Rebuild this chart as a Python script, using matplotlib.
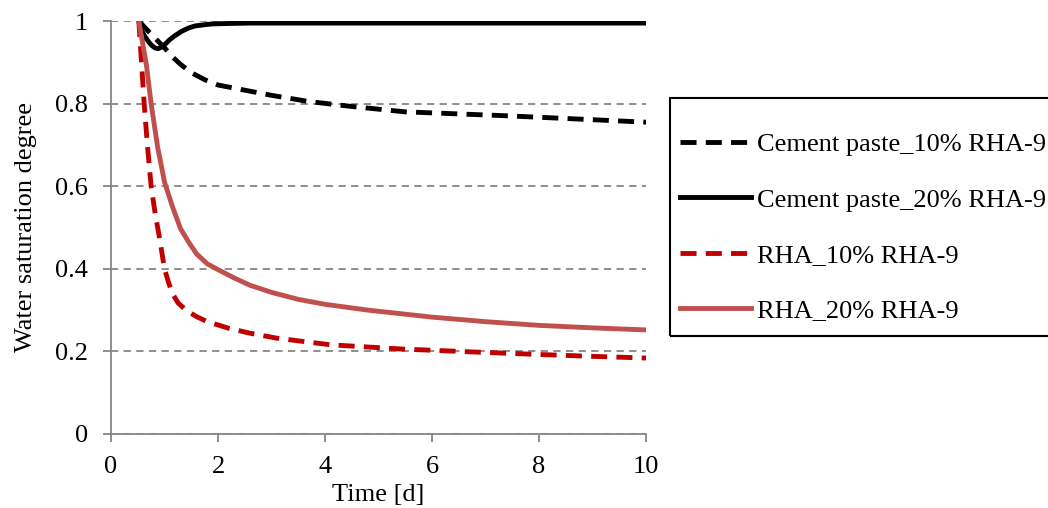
import matplotlib
matplotlib.use('Agg')
import matplotlib.pyplot as plt
import matplotlib.patches as patches

# Cement paste_10% RHA-9 (dashed black)
t_cp10 = [0.52, 0.7, 0.85, 1.0, 1.15, 1.3, 1.5, 1.75, 2.0, 2.4, 3.0, 3.7, 4.5, 5.5, 6.5, 7.3, 8.5, 10]
s_cp10 = [1.0, 0.975, 0.955, 0.935, 0.913, 0.895, 0.875, 0.858, 0.845, 0.835, 0.82, 0.805, 0.793, 0.780, 0.775, 0.771, 0.764, 0.755]

# Cement paste_20% RHA-9 (solid black)
t_cp20 = [0.52, 0.58, 0.64, 0.7, 0.76, 0.82, 0.88, 0.95, 1.02, 1.1, 1.2, 1.32, 1.45, 1.57, 1.75, 1.9, 2.2, 2.6, 3.0, 4, 6, 8, 10]
s_cp20 = [1.0, 0.975, 0.961, 0.95, 0.941, 0.935, 0.933, 0.937, 0.945, 0.955, 0.965, 0.975, 0.983, 0.988, 0.991, 0.993, 0.994, 0.995, 0.995, 0.995, 0.995, 0.995, 0.995]

# RHA_10% RHA-9 (dashed dark red)
t_rha10 = [0.52, 0.57, 0.62, 0.68, 0.75, 0.83, 0.9, 1.0, 1.08, 1.15, 1.25, 1.4, 1.6, 1.8, 2.2, 2.6, 3.1, 4.1, 5.4, 6.7, 7.9, 9.0, 10]
s_rha10 = [1.0, 0.90, 0.80, 0.70, 0.60, 0.53, 0.48, 0.40, 0.365, 0.34, 0.318, 0.30, 0.284, 0.272, 0.256, 0.244, 0.232, 0.216, 0.206, 0.199, 0.193, 0.188, 0.184]

# RHA_20% RHA-9 (solid red)
t_rha20 = [0.52, 0.6, 0.66, 0.75, 0.87, 1.0, 1.15, 1.3, 1.45, 1.6, 1.8, 2.0, 2.3, 2.6, 3.0, 3.5, 4.0, 4.8, 6.0, 7.0, 8.0, 9.0, 10]
s_rha20 = [1.0, 0.94, 0.895, 0.80, 0.696, 0.61, 0.55, 0.497, 0.465, 0.436, 0.412, 0.398, 0.378, 0.36, 0.343, 0.326, 0.314, 0.30, 0.283, 0.272, 0.263, 0.257, 0.252]

labels = ['Cement paste_10% RHA-9', 'Cement paste_20% RHA-9', 'RHA_10% RHA-9', 'RHA_20% RHA-9']

plt.rcParams['font.family'] = ['Liberation Serif', 'DejaVu Serif']
fs = 19
grey = '#868686'
W, H = 1048, 508

fig = plt.figure(figsize=(10.48, 5.08), dpi=100)
ax = fig.add_axes([111 / W, 1 - 434 / H, 535 / W, 413 / H])

lw = 3.5
ax.plot(t_cp10, s_cp10, color='black', lw=lw, dashes=(3.3, 1.9), label=labels[0])
ax.plot(t_cp20, s_cp20, color='black', lw=lw, label=labels[1])
ax.plot(t_rha10, s_rha10, color='#C00000', lw=lw, dashes=(3.3, 1.9), label=labels[2])
ax.plot(t_rha20, s_rha20, color='#C0504D', lw=lw, label=labels[3])

ax.set_xlim(0, 10)
ax.set_ylim(0, 1)
ax.set_xticks([0, 2, 4, 6, 8, 10])
ax.set_yticks([0, 0.2, 0.4, 0.6, 0.8, 1])
ax.set_yticklabels(['0', '0.2', '0.4', '0.6', '0.8', '1'])
ax.yaxis.grid(True, color=grey, linestyle=(0, (4, 3)), lw=1.3)
ax.set_axisbelow(True)
for side in ['top', 'right']:
    ax.spines[side].set_visible(False)
for side in ['left', 'bottom']:
    ax.spines[side].set_color(grey)
    ax.spines[side].set_linewidth(1.3)
ax.tick_params(axis='both', direction='out', length=5.5, width=1.3, color=grey, labelsize=fs)
ax.tick_params(axis='y', pad=11)
ax.tick_params(axis='x', pad=10)

ax.set_xlabel('Time [d]', fontsize=fs, labelpad=5)
ax.set_ylabel('Water saturation degree', fontsize=fs, labelpad=13)

# legend box (frame drawn separately, it runs off the right edge)
fig.patches.append(patches.Rectangle((670 / W, 1 - 336 / H), 0.5, 238 / H, transform=fig.transFigure,
                                     fill=False, edgecolor='black', lw=1.5))
leg = fig.legend(loc='upper left', bbox_to_anchor=(680 / W, 1 - 133 / H), fontsize=fs,
                 frameon=False, handlelength=2.7, handletextpad=0.23,
                 labelspacing=1.2, borderpad=0, borderaxespad=0)

fig.savefig('out.png', dpi=100)
